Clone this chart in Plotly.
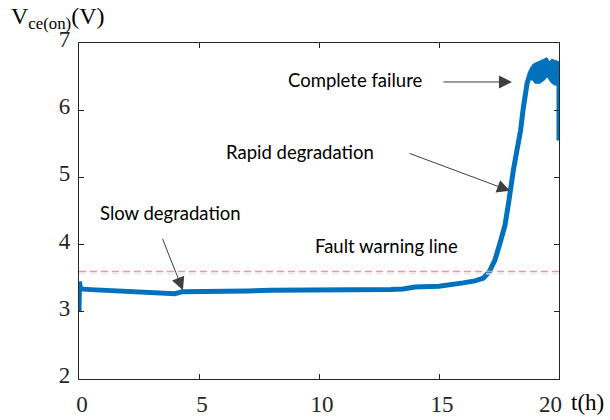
import plotly.graph_objects as go

# Collector-emitter on-state voltage over ageing time
t_hours = [0.0, 0.02, 0.06, 0.5, 1.0, 2.0, 3.0, 3.5, 4.0, 4.3, 5.0, 6.0, 7.0, 8.0,
           9.0, 10.0, 11.0, 12.0, 13.0, 13.5, 14.0, 15.0, 15.5, 16.0, 16.5, 16.85,
           17.1, 17.33, 17.54, 17.75, 17.9, 17.96, 18.1, 18.25, 18.4, 18.5, 18.67,
           18.8, 18.9, 19.1, 19.3, 19.5, 19.7, 19.85, 19.97, 20.0, 20.0]
vce_on = [3.00, 3.45, 3.34, 3.33, 3.32, 3.30, 3.28, 3.27, 3.27, 3.30, 3.30, 3.31,
          3.31, 3.32, 3.32, 3.33, 3.33, 3.33, 3.33, 3.34, 3.37, 3.38, 3.40, 3.43,
          3.46, 3.50, 3.60, 3.77, 4.02, 4.29, 4.62, 4.81, 5.11, 5.41, 5.70, 6.00,
          6.40, 6.55, 6.62, 6.65, 6.66, 6.68, 6.64, 6.60, 6.58, 6.50, 5.55]

# Spread of the measurement near failure (upper / lower envelope)
t_band = [18.8, 18.9, 19.0, 19.2, 19.4, 19.5, 19.6, 19.7, 19.85, 20.0]
v_band_hi = [6.55, 6.68, 6.70, 6.73, 6.76, 6.78, 6.72, 6.76, 6.74, 6.72]
v_band_lo = [6.45, 6.45, 6.40, 6.40, 6.45, 6.50, 6.45, 6.40, 6.37, 6.38]

FAULT_LEVEL = 3.6

x_ticks = [0, 5, 10, 15, 20]
x_tick_text = ["0", "5", "10", "15", "20\u00a0\u00a0\u00a0\u00a0"]
y_ticks = [2, 3, 4, 5, 6, 7]

BLUE = "#0072BD"
AXIS = "#262626"
ARROW = "#3f3f3f"
serif = "Liberation Serif"
sans = "Lato"

fig = go.Figure()

fig.add_trace(go.Scatter(x=t_band, y=v_band_lo, mode="lines",
                         line=dict(color=BLUE, width=1), showlegend=False,
                         hoverinfo="skip"))
fig.add_trace(go.Scatter(x=t_band, y=v_band_hi, mode="lines", fill="tonexty",
                         fillcolor=BLUE, line=dict(color=BLUE, width=1),
                         showlegend=False, hoverinfo="skip"))
fig.add_trace(go.Scatter(x=t_hours, y=vce_on, mode="lines",
                         line=dict(color=BLUE, width=5), showlegend=False))

# Fault warning threshold with its faint shadow
fig.add_hline(y=FAULT_LEVEL - 0.035, line=dict(color="#e8e8e8", width=1.2, dash="7px,4px"))
fig.add_hline(y=FAULT_LEVEL, line=dict(color="#ff9494", width=1.5, dash="7px,4px"))

anno_font = dict(family=sans, size=18.5, color="black")
labels = [
    ("Complete failure", 11.54, 6.45),
    ("Rapid degradation", 9.21, 5.38),
    ("Slow degradation", 3.83, 4.47),
    ("Fault warning line", 12.83, 3.98),
]
for text, x, y in labels:
    fig.add_annotation(x=x, y=y, text=text, showarrow=False, font=anno_font,
                       xanchor="center", yanchor="middle")

# Arrows pointing at each stage of the curve
arrows = [
    (18.04, 6.42, -70, 0),
    (17.96, 4.80, -102, -38),
    (4.33, 3.32, -21, -53),
]
for x, y, ax, ay in arrows:
    fig.add_annotation(x=x, y=y, ax=ax, ay=ay, text="", showarrow=True,
                       arrowhead=2, arrowsize=2.6, arrowwidth=1,
                       arrowcolor=ARROW, standoff=0)

fig.add_annotation(xref="paper", yref="paper", x=-0.145, y=1.074,
                   xanchor="left", yanchor="middle", showarrow=False,
                   text="V<sub>ce(on)</sub>(V)",
                   font=dict(family=serif, size=24, color="black"))
fig.add_annotation(xref="paper", yref="paper", x=1.021, y=-0.071,
                   xanchor="left", yanchor="middle", showarrow=False,
                   text="t(h)", font=dict(family=serif, size=23, color="black"))

axis_common = dict(showgrid=False, zeroline=False, showline=True,
                   linecolor=AXIS, linewidth=1.2, mirror="ticks",
                   ticks="inside", ticklen=5, tickcolor=AXIS, tickwidth=1,
                   automargin=False,
                   tickfont=dict(family=serif, size=23, color=AXIS))

fig.update_xaxes(range=[0, 20], tickvals=x_ticks, ticktext=x_tick_text,
                 ticklabelstandoff=4, ticklabelshift=3, **axis_common)
fig.update_yaxes(range=[2, 7], tickvals=y_ticks, ticklabelstandoff=3,
                 ticklabelshift=-4, **axis_common)

fig.update_layout(width=610, height=420,
                  margin=dict(l=79, r=51, t=43, b=41, autoexpand=False),
                  plot_bgcolor="white", paper_bgcolor="white",
                  showlegend=False)

fig.write_html("out.html")
